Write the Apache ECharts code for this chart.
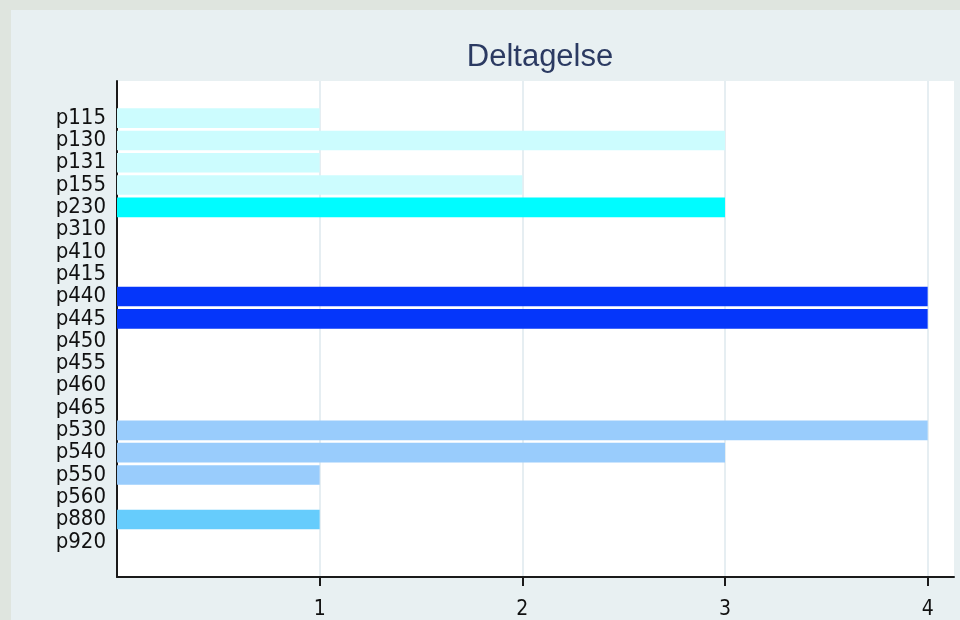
<!DOCTYPE html>
<html>
<head>
<meta charset="utf-8">
<script src="https://cdn.jsdelivr.net/npm/echarts@6/dist/echarts.min.js"></script>
<style>
  html, body { margin: 0; padding: 0; background: #dfe5df; }
  #chart { position: absolute; left: 11px; top: 10px; width: 949px; height: 610px; }
</style>
</head>
<body>
<div id="chart"></div>
<script>
// data
var categories = ['p115', 'p130', 'p131', 'p155', 'p230', 'p310', 'p410', 'p415', 'p440', 'p445',
  'p450', 'p455', 'p460', 'p465', 'p530', 'p540', 'p550', 'p560', 'p880', 'p920']
var values = [1, 3, 1, 2, 3, 0, 0, 0, 4, 4, 0, 0, 0, 0, 4, 3, 1, 0, 1, 0]
var xTicks = [1, 2, 3, 4]

// one colour per category group
var barColors = ['#ccfcfe', '#ccfcfe', '#ccfcfe', '#ccfcfe', '#00fcff', '#00fcff', '#00fcff', '#00fcff',
  '#0536fa', '#0536fa', '#0536fa', '#0536fa', '#0536fa', '#0536fa', '#99ccfc', '#99ccfc', '#99ccfc',
  '#99ccfc', '#66ccfc', '#66ccfc']

var chart = echarts.init(document.getElementById('chart'))
var xMax = 4.13

var option = {
  backgroundColor: '#e8f0f2',
  animation: false,
  title: {
    text: 'Deltagelse',
    left: 524,
    top: 27,
    textAlign: 'center',
    textStyle: {
      fontFamily: 'Liberation Sans',
      fontSize: 31,
      fontWeight: 'normal',
      color: '#2b3a62'
    }
  },
  grid: [
    // frame with axes and grid lines
    { left: 106, right: 6, top: 71, bottom: 39, show: true, backgroundColor: '#ffffff', borderWidth: 0 },
    // bars
    { left: 106, right: 6, top: 97, bottom: 67 }
  ],
  xAxis: [
    {
      gridIndex: 0,
      type: 'value',
      min: 0,
      max: xMax,
      interval: 1,
      axisLine: { show: true, lineStyle: { color: '#1a1a1a', width: 2 } },
      axisTick: { show: true, length: 9, customValues: xTicks, lineStyle: { color: '#1a1a1a', width: 2 } },
      axisLabel: {
        customValues: xTicks,
        margin: 22,
        fontFamily: 'DejaVu Sans Condensed',
        fontSize: 21,
        color: '#111111'
      },
      splitLine: { show: true, lineStyle: { color: '#e6eef2', width: 2 } }
    },
    {
      gridIndex: 1,
      type: 'value',
      min: 0,
      max: xMax,
      show: false
    }
  ],
  yAxis: [
    {
      gridIndex: 0,
      type: 'value',
      min: 0,
      max: 1,
      axisLine: { show: true, lineStyle: { color: '#1a1a1a', width: 2 } },
      axisTick: { show: false },
      axisLabel: { show: false },
      splitLine: { show: false }
    },
    {
      gridIndex: 1,
      type: 'category',
      inverse: true,
      data: categories,
      axisLine: { show: false },
      axisTick: { show: false },
      axisLabel: {
        interval: 0,
        margin: 11,
        fontFamily: 'DejaVu Sans Condensed',
        fontSize: 22,
        lineHeight: 22,
        color: '#111111'
      }
    }
  ],
  series: [
    {
      type: 'bar',
      xAxisIndex: 1,
      yAxisIndex: 1,
      barCategoryGap: '12%',
      data: values.map(function (v, i) {
        return { value: v, itemStyle: { color: barColors[i] } }
      })
    }
  ]
}

chart.setOption(option)
</script>
</body>
</html>
